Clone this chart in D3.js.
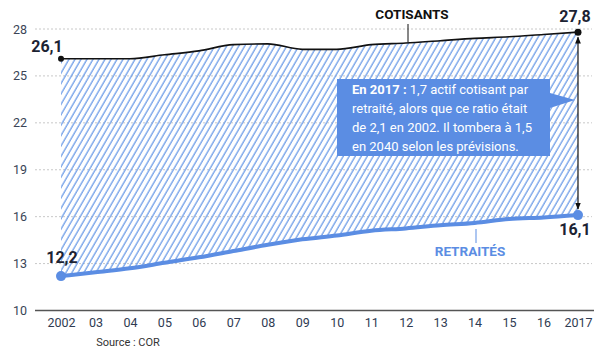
<!DOCTYPE html>
<html><head><meta charset="utf-8">
<script src="https://cdn.jsdelivr.net/npm/d3@7"></script>
<style>
html,body{margin:0;padding:0;background:#fff;}
svg{display:block;font-family:Roboto,"Noto Sans",sans-serif;}
</style></head>
<body>
<svg id="c" width="607" height="358"></svg>
<script>
const years = [2002,2003,2004,2005,2006,2007,2008,2009,2010,2011,2012,2013,2014,2015,2016,2017];
const yearLabels = ["2002","03","04","05","06","07","08","09","10","11","12","13","14","15","16","2017"];
const cotisants = [26.1,26.1,26.1,26.35,26.6,27.0,27.05,26.7,26.7,27.0,27.1,27.25,27.4,27.5,27.65,27.8];
const retraites = [12.2,12.45,12.7,13.05,13.4,13.8,14.2,14.55,14.8,15.1,15.25,15.45,15.6,15.85,15.95,16.1];
const yTicks = [10,13,16,19,22,25,28];
const noteLines = [
  [{t:"En 2017 : ",b:true},{t:"1,7 actif cotisant par",b:false}],
  [{t:"retraité, alors que ce ratio était",b:false}],
  [{t:"de 2,1 en 2002. Il tombera à 1,5",b:false}],
  [{t:"en 2040 selon les prévisions.",b:false}]
];

const svg = d3.select("#c");
const blue = "#5b8de3";
const x = d3.scaleLinear().domain([2002,2017]).range([61,578]);
const y = d3.scaleLinear().domain([10,28]).range([310.5,29]);

const defs = svg.append("defs");
const pat = defs.append("pattern").attr("id","hatch").attr("patternUnits","userSpaceOnUse")
  .attr("width",5.2).attr("height",10).attr("patternTransform","rotate(30)");
pat.append("line").attr("x1",1).attr("x2",1).attr("y1",-1).attr("y2",11)
  .attr("stroke","#6f9de8").attr("stroke-width",1.3);

// gridlines
svg.append("g").selectAll("line").data(yTicks.filter(d=>d>10)).join("line")
  .attr("x1",35).attr("x2",592).attr("y1",d=>y(d)).attr("y2",d=>y(d))
  .attr("stroke","#c8c8c8").attr("stroke-width",1).attr("stroke-dasharray","2,2");

// y tick labels
svg.append("g").selectAll("text").data(yTicks).join("text")
  .attr("x",27).attr("y",d=>y(d)).attr("dy","0.36em").attr("text-anchor","end")
  .attr("font-size",12.5).attr("fill","#3a4456").text(d=>d);

// area
const area = d3.area().x((d,i)=>x(years[i])).y0((d,i)=>y(retraites[i])).y1((d,i)=>y(cotisants[i])).curve(d3.curveMonotoneX);
svg.append("path").datum(years).attr("d",area).attr("fill","url(#hatch)");

// axis line
svg.append("line").attr("x1",35).attr("x2",594).attr("y1",y(10)).attr("y2",y(10))
  .attr("stroke","#555").attr("stroke-width",1.5);

// x labels via axis
const xAxis = d3.axisBottom(x).tickValues(years).tickSize(0).tickPadding(8).tickFormat((d,i)=>yearLabels[i]);
const gx = svg.append("g").attr("transform",`translate(0,${y(10)})`).call(xAxis);
gx.select(".domain").remove();
gx.selectAll("text").attr("font-size",12.5).attr("fill","#2f3b52").attr("font-family","Roboto,sans-serif");

// lines
const lineC = d3.line().x((d,i)=>x(years[i])).y(d=>y(d)).curve(d3.curveMonotoneX);
svg.append("path").datum(cotisants).attr("d",lineC).attr("fill","none").attr("stroke","#111").attr("stroke-width",1.6);
svg.append("path").datum(retraites).attr("d",lineC).attr("fill","none").attr("stroke",blue).attr("stroke-width",4).attr("stroke-linecap","round");

// arrow
defs.append("marker").attr("id","ah").attr("viewBox","0 0 10 10").attr("refX",9).attr("refY",5)
  .attr("markerWidth",6).attr("markerHeight",6).attr("orient","auto-start-reverse")
  .append("path").attr("d","M0,1 L10,5 L0,9 Z").attr("fill","#111");
svg.append("line").attr("x1",x(2017)).attr("x2",x(2017)).attr("y1",y(cotisants[15])+5).attr("y2",y(retraites[15])-6)
  .attr("stroke","#111").attr("stroke-width",1.2)
  .attr("marker-start","url(#ah)").attr("marker-end","url(#ah)");

// dots
svg.append("circle").attr("cx",x(2002)).attr("cy",y(cotisants[0])).attr("r",3).attr("fill","#111");
svg.append("circle").attr("cx",x(2017)).attr("cy",y(cotisants[15])).attr("r",3.5).attr("fill","#111");
svg.append("circle").attr("cx",x(2002)).attr("cy",y(retraites[0])).attr("r",5).attr("fill",blue);
svg.append("circle").attr("cx",x(2017)).attr("cy",y(retraites[15])).attr("r",5).attr("fill",blue);

// value labels
const vl = (t,xx,yy)=>svg.append("text").attr("x",xx).attr("y",yy).attr("text-anchor","middle")
  .attr("font-size",16).attr("font-weight","bold").attr("fill","#1c2333").text(t);
const fmt = v=>String(v).replace(".",",");
vl(fmt(cotisants[0]), x(2002)-14, y(cotisants[0])-7);
vl(fmt(cotisants[15]), x(2017)-3, y(cotisants[15])-10);
vl(fmt(retraites[0]), x(2002)+1, y(retraites[0])-13);
vl(fmt(retraites[15]), x(2017)-3, y(retraites[15])+20);

// series labels
svg.append("line").attr("x1",408).attr("x2",408).attr("y1",24).attr("y2",42).attr("stroke","#111").attr("stroke-width",1);
svg.append("text").attr("x",412).attr("y",19).attr("text-anchor","middle").attr("font-size",13.5).attr("font-weight","bold").attr("fill","#111").text("COTISANTS");
svg.append("line").attr("x1",476).attr("x2",476).attr("y1",229).attr("y2",243).attr("stroke",blue).attr("stroke-width",1);
svg.append("text").attr("x",470).attr("y",256).attr("text-anchor","middle").attr("font-size",13.5).attr("font-weight","bold").attr("fill",blue).text("RETRAITÉS");

// callout
svg.append("path").attr("d","M337,79 H550 V93 L575,100 L550,108 V156 H337 Z").attr("fill",blue);
const tg = svg.append("g");
noteLines.forEach((ln,i)=>{
  const t = tg.append("text").attr("x",352).attr("y",94+i*19).attr("font-size",13).attr("fill","#fff");
  ln.forEach(s=>t.append("tspan").attr("font-weight",s.b?"bold":"normal").text(s.t));
});

// source
svg.append("text").attr("x",128).attr("y",346).attr("text-anchor","middle").attr("font-size",11).attr("fill","#333").text("Source : COR");
</script>
</body></html>
